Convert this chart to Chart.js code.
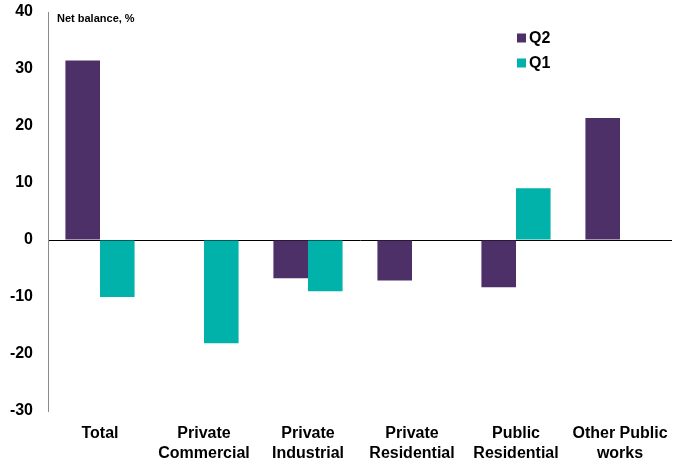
<!DOCTYPE html>
<html>
<head>
<meta charset="utf-8">
<script src="https://cdn.jsdelivr.net/npm/chart.js@4"></script>
<style>
  html, body { margin: 0; padding: 0; background: #fff; }
  #wrap { width: 678px; height: 462px; }
</style>
</head>
<body>
<div id="wrap"><canvas id="c" width="678" height="462"></canvas></div>
<script>
// Sectors surveyed (two-line labels)
const categories = [
  'Total',
  ['Private', 'Commercial'],
  ['Private', 'Industrial'],
  ['Private', 'Residential'],
  ['Public', 'Residential'],
  ['Other Public', 'works']
];
// Net balance, % (null = no reading)
const q2Values = [31.5, null, -6.7, -7.1, -8.3, 21.4];
const q1Values = [-10.0, -18.1, -9.0, null, 9.1, null];
const yTicks = [-30, -20, -10, 0, 10, 20, 30, 40];

const PURPLE = '#4E3069';
const TEAL = '#00B2A9';
const FONT = 'Arial, "Liberation Sans", sans-serif';

// Axis title and stacked legend drawn in the upper part of the plot
const annotations = {
  id: 'annotations',
  afterDraw(chart) {
    const ctx = chart.ctx;
    ctx.save();
    ctx.fillStyle = '#000';
    ctx.textBaseline = 'middle';
    ctx.textAlign = 'left';
    ctx.font = 'bold 11px ' + FONT;
    ctx.fillText('Net balance, %', 57, 19);

    const items = [
      { label: chart.data.datasets[0].label, color: chart.data.datasets[0].backgroundColor, y: 38 },
      { label: chart.data.datasets[1].label, color: chart.data.datasets[1].backgroundColor, y: 63 }
    ];
    ctx.font = 'bold 16px ' + FONT;
    items.forEach(it => {
      ctx.fillStyle = it.color;
      ctx.fillRect(517, it.y - 4.5, 9, 9);
      ctx.fillStyle = '#000';
      ctx.fillText(it.label, 529, it.y + 1);
    });
    ctx.restore();
  }
};

new Chart(document.getElementById('c'), {
  type: 'bar',
  data: {
    labels: categories,
    datasets: [
      { label: 'Q2', data: q2Values, backgroundColor: PURPLE },
      { label: 'Q1', data: q1Values, backgroundColor: TEAL }
    ]
  },
  options: {
    responsive: false,
    animation: false,
    devicePixelRatio: 1,
    events: [],
    categoryPercentage: 0.665,
    barPercentage: 1.0,
    layout: { padding: { top: 12, right: 6, bottom: 0, left: 0 } },
    plugins: {
      legend: { display: false },
      tooltip: { enabled: false }
    },
    scales: {
      x: {
        grid: { display: false },
        border: { display: false },
        ticks: {
          color: '#000',
          font: { family: FONT, size: 16, weight: 'bold', lineHeight: 1.25 },
          padding: 5,
          maxRotation: 0,
          autoSkip: false
        },
        afterFit(scale) {
          scale.height = 51;
          scale.paddingLeft = 0;
          scale.paddingRight = 0;
        }
      },
      y: {
        min: -30,
        max: 40,
        afterBuildTicks(scale) { scale.ticks = yTicks.map(v => ({ value: v })); },
        grid: {
          drawTicks: false,
          tickLength: 0,
          color: c => (c.tick && c.tick.value === 0) ? '#000' : 'rgba(0,0,0,0)',
          lineWidth: 1
        },
        border: { display: true, color: '#8a8a8a', width: 1 },
        ticks: {
          color: '#000',
          font: { family: FONT, size: 16, weight: 'bold' },
          padding: 15
        },
        afterFit(scale) {
          scale.width = 48;
          scale.paddingTop = 0;
          scale.paddingBottom = 0;
        }
      }
    }
  },
  plugins: [annotations]
});
</script>
</body>
</html>
